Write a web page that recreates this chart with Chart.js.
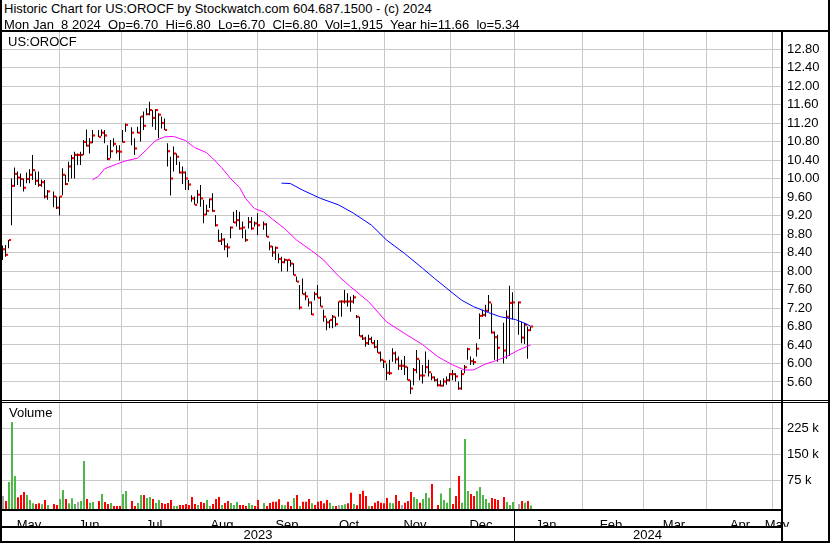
<!DOCTYPE html>
<html>
<head>
<meta charset="utf-8">
<script src="https://cdn.jsdelivr.net/npm/chart.js@4.4.1/dist/chart.umd.min.js"></script>
<style>
  html, body { margin: 0; padding: 0; background: #fff; }
  #wrap { position: relative; width: 830px; height: 543px; overflow: hidden;
          font-family: "Liberation Sans", Arial, sans-serif; font-size: 13px; color: #000; }
  .ln { position: absolute; background: #000; z-index: 5; }
  .txt { position: absolute; white-space: pre; line-height: 15px; z-index: 6; }
  canvas { position: absolute; left: 0; }
</style>
</head>
<body>
<div id="wrap">
  <div class="txt" style="left:4px;top:1px">Historic Chart for US:OROCF by Stockwatch.com 604.687.1500 - (c) 2024</div>
  <div class="txt" style="left:4px;top:17px">Mon Jan  8 2024  Op=6.70  Hi=6.80  Lo=6.70  Cl=6.80  Vol=1,915  Year hi=11.66  lo=5.34</div>

  <canvas id="priceChart" width="830" height="369" style="top:32px"></canvas>
  <canvas id="volChart" width="830" height="124" style="top:403px"></canvas>

  <div class="txt" style="left:8px;top:34px">US:OROCF</div>
  <div class="txt" style="left:9px;top:405px">Volume</div>
  <div class="txt" style="left:2px;width:512px;top:527px;text-align:center">2023</div>
  <div class="txt" style="left:514px;width:267px;top:527px;text-align:center">2024</div>

  <!-- frame -->
  <div class="ln" style="left:0;top:0;width:2px;height:543px"></div>
  <div class="ln" style="left:828px;top:0;width:2px;height:543px"></div>
  <div class="ln" style="left:0;top:30px;width:830px;height:2px"></div>
  <div class="ln" style="left:781px;top:30px;width:2px;height:513px"></div>
  <div class="ln" style="left:0;top:400px;width:830px;height:1px"></div>
  <div class="ln" style="left:0;top:402px;width:830px;height:1px"></div>
  <div class="ln" style="left:0;top:509px;width:782px;height:2px"></div>
  <div class="ln" style="left:0;top:526px;width:782px;height:2px"></div>
  <div class="ln" style="left:514px;top:510px;width:1px;height:32px"></div>
  <div class="ln" style="left:0;top:541px;width:830px;height:2px"></div>
</div>

<script>
// trading-day index 0 = late Apr 2023 ... 176 = Jan 8 2024 (null = no bar)
const highs = [
  8.55, 8.56, 8.67, 10.00, 10.24, 10.15, 10.11, 10.00, 10.13, 10.20,
  10.51, 10.15, 10.15, 9.98, 9.97, 9.75, null, 9.72, 9.61, 9.61,
  10.22, 10.08, 10.36, 10.51, 10.58, 10.54, 10.58, 10.83, 11.06, 10.87,
  11.05, null, 11.05, 11.06, 11.05, 10.72, 10.83, 10.87, 10.72, 10.72,
  11.05, 11.19, null, 11.11, 10.87, 11.12, 11.34, 11.45, 11.52, 11.66,
  11.48, 11.50, 11.41, 11.34, 11.30, 10.76, 10.47, 10.69, 10.54, 10.36,
  10.26, 10.15, 9.97, 9.64, 9.61, 9.75, 9.86, 9.54, 9.43, 9.57,
  9.68, 9.21, 8.90, 8.82, 8.71, 8.60, 8.96, 9.28, 9.32, 9.28,
  9.07, 8.89, 9.17, 9.17, 9.07, 9.25, null, 9.07, 9.03, 8.63,
  8.54, 8.53, 8.38, 8.31, 8.27, 8.25, 8.24, 8.17, 7.88, 7.70,
  7.84, 7.55, 7.41, 7.34, 7.55, 7.70, 7.45, 7.16, 6.98, 6.94,
  7.05, 7.01, 7.34, 7.37, 7.59, 7.52, 7.45, 7.48, 7.05, 7.01,
  6.62, 6.58, 6.62, 6.58, 6.51, 6.51, 6.26, 6.08, 6.00, 6.08,
  6.33, 6.26, 6.15, 6.08, 6.16, 5.93, 5.64, 5.90, 6.29, 6.08,
  5.97, 6.26, 6.08, 5.79, 5.72, 5.68, 5.64, 5.68, 5.72, 5.79,
  5.86, 5.79, 5.61, 5.86, 5.97, 6.34, 6.15, 6.11, 6.44, 7.08,
  7.16, 7.27, 7.48, 7.30, 6.69, 6.62, null, 6.88, 7.15, 7.68,
  7.54, null, 7.34, 6.90, 6.88, 6.80, 6.80
];
const lows = [
  8.24, 8.31, 8.49, 8.99, 9.82, 9.86, 9.82, 9.72, 9.90, 9.90,
  9.97, 9.86, 9.82, 9.82, 9.57, 9.54, null, 9.38, 9.34, 9.20,
  9.64, 9.86, 9.93, 10.00, 10.00, 10.29, 10.29, 10.51, 10.69, 10.54,
  10.76, null, 10.90, 10.92, 10.76, 10.40, 10.44, 10.69, 10.54, 10.39,
  10.78, 11.01, null, 10.72, 10.51, 10.98, 10.80, 11.05, 11.37, 11.37,
  11.12, 11.05, 10.87, 11.08, 11.05, 10.26, 9.63, 10.15, 10.29, 10.11,
  9.88, 9.75, 9.75, 9.50, 9.43, 9.46, 9.39, 9.03, 9.21, 9.36,
  9.28, 8.96, 8.63, 8.56, 8.45, 8.30, 8.71, 9.04, 8.96, 8.89,
  8.71, 8.63, 8.92, 8.89, 8.96, 8.78, null, 8.89, 8.74, 8.45,
  8.31, 8.24, 8.17, 7.99, 8.17, 7.99, 8.09, 7.91, 7.77, 7.17,
  7.50, 7.37, 7.23, 7.05, 7.37, 7.42, 7.23, 6.90, 6.72, 6.76,
  6.76, 6.80, 7.01, 7.01, 7.30, 7.23, 7.12, 7.30, 6.98, 6.59,
  6.51, 6.36, 6.40, 6.44, 6.33, 6.23, 6.04, 5.90, 5.64, 5.75,
  6.04, 6.00, 5.86, 5.86, 5.75, 5.64, 5.34, 5.53, 5.79, 5.64,
  5.57, 5.79, 5.72, 5.64, 5.61, 5.50, 5.50, 5.50, 5.54, 5.61,
  5.64, 5.61, 5.43, 5.43, 5.79, 6.08, 5.97, 5.97, 6.15, 6.53,
  7.01, 7.01, 7.12, 6.65, 6.08, 6.04, null, 6.00, 6.10, 6.16,
  6.95, null, 6.62, 6.44, 6.42, 6.10, 6.70
];
const closes = [
  8.47, 8.35, 8.67, 9.84, 10.10, 10.02, 9.99, 9.80, 9.99, 10.08,
  10.18, 9.95, 9.86, 9.92, 9.61, 9.72, null, 9.61, 9.37, 9.61,
  10.08, 9.88, 10.26, 10.44, 10.51, 10.51, 10.51, 10.79, 10.71, 10.78,
  10.93, null, 10.90, 10.99, 10.93, 10.42, 10.59, 10.75, 10.59, 10.58,
  10.79, 11.16, null, 10.99, 10.65, 10.99, 11.34, 11.14, 11.39, 11.48,
  11.31, 11.48, 11.38, 11.20, 11.05, 10.59, 10.00, 10.54, 10.47, 10.13,
  10.13, 10.00, 9.87, 9.57, 9.43, 9.65, 9.57, 9.22, 9.30, 9.55,
  9.30, 8.99, 8.65, 8.68, 8.53, 8.51, 8.94, 9.05, 9.10, 8.92,
  8.94, 8.67, 9.06, 8.92, 9.03, 8.99, null, 9.01, 8.74, 8.53,
  8.40, 8.50, 8.26, 8.19, 8.24, 8.24, 8.16, 7.91, 7.77, 7.21,
  7.50, 7.45, 7.32, 7.06, 7.50, 7.42, 7.23, 7.01, 6.89, 6.94,
  7.01, 6.85, 7.34, 7.34, 7.34, 7.34, 7.34, 7.43, 7.01, 6.59,
  6.54, 6.44, 6.53, 6.44, 6.36, 6.23, 6.08, 6.04, 5.80, 5.79,
  6.22, 6.09, 5.95, 5.95, 5.93, 5.64, 5.46, 5.86, 6.10, 5.74,
  5.74, 5.92, 5.81, 5.70, 5.64, 5.53, 5.52, 5.61, 5.64, 5.77,
  5.77, 5.72, 5.46, 5.77, 5.92, 6.31, 6.05, 6.03, 6.32, 7.03,
  7.05, 7.14, 7.32, 6.67, 6.57, 6.34, null, 6.28, 7.01, 7.31,
  7.32, null, 7.32, 6.56, 6.84, 6.72, 6.80
];
const volumes = [
  29400, 15000, 69900, 243000, 87200, 25600, 32300, 41000, 32300, 17900,
  8300, 6400, 8300, 5400, 17900, 3500, null, 6400, 3500, 20800,
  46800, 20800, 8300, 22700, 6400, 12100, 15000, 130500, 20800, 10200,
  12100, null, 15000, 35200, 12100, 6400, 9200, 1000, 1000, 600,
  35200, 43900, null, 15000, 600, 9200, 32300, 32300, 23700, 26600,
  20800, 9200, 17900, 9200, 6400, 9200, 17900, 600, 300, 3500,
  3500, 6400, 3500, 26600, 6400, 3500, 12100, 9200, 17900, 300,
  6400, 20800, 26600, 3500, 9200, 15000, 9200, 3500, 12100, 3500,
  3500, 300, 9200, 3500, 600, 17900, null, 9200, 600, 9200,
  13100, 13100, 19800, 3500, 2500, 13100, 600, 23700, 32300, 600,
  13100, 13100, 20800, 8300, 3500, 13100, 15000, 8300, 17900, 10200,
  600, 300, 3500, 3500, 5400, 8300, 39100, 6400, 2500, 35200,
  44800, 29400, 600, 600, 10200, 15000, 10200, 8300, 23700, 10200,
  8300, 32300, 15000, 3500, 10200, 15000, 41000, 26600, 20800, 10200,
  20800, 38100, 24600, 64100, null, 3500, 37100, 17900, 10200, 52500,
  6400, 29400, 87200, 10200, 194000, 43900, 35200, 29400, 43900, 55400,
  32300, 20800, 10200, 23700, 20800, 17900, null, 26600, 12100, 3500,
  12100, null, 6400, 15000, 10200, 15000, 1915
];
// u = up day, d = down day, n = unchanged, . = no trade
const volDir = (
  'n d u u u d d d u u  u d d u d u . d d u  u d u u u n u u d u  u . d u d d u d d d  u u . d d u u d u u ' +
  'd u u d d d d u u d  d d d d d u d d u u  d d d u d d u u u d  d d u u d d . u d d  d d d u u d d u d u ' +
  'd d d u d d d d d u  u d n u u d d u d d  d d u d d d d d d u  u d d n d d d u u d  u u u d . d u u u u ' +
  'd d d u u u d d u u  u u u d d d . d u u  u . n d u d u'
).trim().split(/\s+/);

// moving averages: [trading-day index, price]
const maShortDays = [30, 32, 34, 38, 41, 45, 48, 51, 54, 57, 61, 64, 68, 70, 73, 76, 79, 81, 84, 87,
                     90, 94, 98, 103, 107, 112, 116, 122, 128, 134, 140, 145, 150, 154, 157, 161, 164, 168, 172, 176];
const maShortVals = [9.97, 10.05, 10.21, 10.31, 10.38, 10.44, 10.62, 10.82, 10.90, 10.91, 10.82, 10.67, 10.56, 10.44,
                     10.24, 10.00, 9.81, 9.57, 9.35, 9.28, 9.12, 8.92, 8.67, 8.44, 8.24, 7.89, 7.66, 7.34, 6.90,
                     6.65, 6.41, 6.15, 5.97, 5.86, 5.86, 5.99, 6.05, 6.15, 6.29, 6.40];
const maLongDays = [93, 96, 100, 106, 112, 117, 123, 128, 134, 140, 144, 148, 153, 157, 162, 166, 171, 174, 176];
const maLongVals = [9.90, 9.89, 9.75, 9.57, 9.43, 9.25, 8.99, 8.67, 8.38, 8.06, 7.84, 7.63, 7.37, 7.23,
                    7.10, 7.01, 6.95, 6.87, 6.81];

const monthStarts = [19.0, 39.8, 61.8, 84.9, 105.0, 127.3, 149.4, 170.7, 193.17, 213.83, 234.83, 256.83];
const monthMids = [8.83, 28.83, 50.5, 73.17, 94.83, 115.5, 137.5, 159.5, 181.17, 202.83, 223.83, 245.83, 258.17];
const monthNames = ['May', 'Jun', 'Jul', 'Aug', 'Sep', 'Oct', 'Nov', 'Dec', 'Jan', 'Feb', 'Mar', 'Apr', 'May'];
const priceTicks = [5.6, 6.0, 6.4, 6.8, 7.2, 7.6, 8.0, 8.4, 8.8, 9.2, 9.6, 10.0, 10.4, 10.8, 11.2, 11.6, 12.0, 12.4, 12.8];
const volTicks = [75000, 150000, 225000];

// x: 3 px per trading day
const X_MIN = -1 / 6;
const X_MAX = X_MIN + 780 / 3;
const PRICE_MIN = 5.2108, PRICE_MAX = 13.1676;
const VOL_MIN = -8000, VOL_MAX = 298000;

const GRID = '#c8c8c8';
const DIR_COLORS = { u: '#4db848', d: '#ff0000', n: '#a8a8a8' };

Chart.defaults.font.family = '"Liberation Sans", Arial, sans-serif';
Chart.defaults.font.size = 13;
Chart.defaults.color = '#000';

const hlData = [], closeData = [], volData = [], volColors = [];
highs.forEach((h, i) => {
    if (h === null) return;
    hlData.push({ x: i, y: [lows[i], h] });
    closeData.push({ x: i + 0.5, y: closes[i] });
});
volumes.forEach((v, i) => {
    if (v === null) return;
    volData.push({ x: i + 1 / 6, y: [VOL_MIN, v] });
    volColors.push(DIR_COLORS[volDir[i]] || DIR_COLORS.n);
});
const maShort = maShortDays.map((d, k) => ({ x: d, y: maShortVals[k] }));
const maLong = maLongDays.map((d, k) => ({ x: d, y: maLongVals[k] }));

const setTicks = (values) => (scale) => { scale.ticks = values.map(v => ({ value: v })); };
// fixed box sizes, no extra room for labels at the ends
const fixSize = (w, h) => (s) => {
    if (w !== null) s.width = w;
    if (h !== null) s.height = h;
    s.paddingLeft = s.paddingRight = s.paddingTop = s.paddingBottom = 0;
};

function gridAxis(weight) {
    return {
        type: 'linear', min: X_MIN, max: X_MAX, position: 'bottom', weight: weight, offset: false,
        afterBuildTicks: setTicks(monthStarts),
        ticks: { display: false },
        grid: { color: GRID, drawTicks: false, offset: false },
        border: { display: false },
        afterFit: fixSize(null, 0)
    };
}

new Chart(document.getElementById('priceChart'), {
    type: 'bar',
    data: {
        datasets: [
            { type: 'line', data: maShort, borderColor: '#ff00ff', borderWidth: 1, pointRadius: 0, order: 0 },
            { type: 'line', data: maLong, borderColor: '#0000ff', borderWidth: 1, pointRadius: 0, order: 0 },
            { type: 'scatter', data: closeData, pointStyle: 'rect', pointRadius: 1.5,
              backgroundColor: '#ff0000', borderWidth: 0, order: 1 },
            { type: 'bar', data: hlData, backgroundColor: '#000', barThickness: 1,
              borderWidth: 0, inflateAmount: 0, order: 2 }
        ]
    },
    options: {
        responsive: false,
        animation: false,
        devicePixelRatio: 1,
        events: [],
        layout: { autoPadding: false, padding: { left: 2, right: 0, top: 0, bottom: 1 } },
        plugins: { legend: { display: false }, tooltip: { enabled: false } },
        scales: {
            x: gridAxis(0),
            y: {
                position: 'right', min: PRICE_MIN, max: PRICE_MAX,
                afterBuildTicks: setTicks(priceTicks),
                ticks: { callback: (v) => v.toFixed(2), padding: 5 },
                grid: { color: GRID, drawTicks: false },
                border: { display: false },
                afterFit: fixSize(48, null)
            }
        }
    }
});

new Chart(document.getElementById('volChart'), {
    type: 'bar',
    data: {
        datasets: [
            { data: volData, backgroundColor: volColors, barThickness: 2, borderWidth: 0,
              inflateAmount: 0, xAxisID: 'x', yAxisID: 'y' }
        ]
    },
    options: {
        responsive: false,
        animation: false,
        devicePixelRatio: 1,
        events: [],
        layout: { autoPadding: false, padding: { left: 2, right: 0, top: 0, bottom: 0 } },
        plugins: { legend: { display: false }, tooltip: { enabled: false } },
        scales: {
            x: gridAxis(0),
            xm: {
                type: 'linear', min: X_MIN, max: X_MAX, position: 'bottom', weight: 1, offset: false,
                afterBuildTicks: setTicks(monthMids),
                ticks: { callback: (v, idx) => monthNames[idx], autoSkip: false, maxRotation: 0, padding: 1 },
                grid: { display: false, offset: false },
                border: { display: false },
                afterFit: fixSize(null, 18)
            },
            y: {
                position: 'right', min: VOL_MIN, max: VOL_MAX,
                afterBuildTicks: setTicks(volTicks),
                ticks: { callback: (v) => (v / 1000) + ' k', padding: 5 },
                grid: { color: GRID, drawTicks: false },
                border: { display: false },
                afterFit: fixSize(48, null)
            }
        }
    }
});
</script>
</body>
</html>
